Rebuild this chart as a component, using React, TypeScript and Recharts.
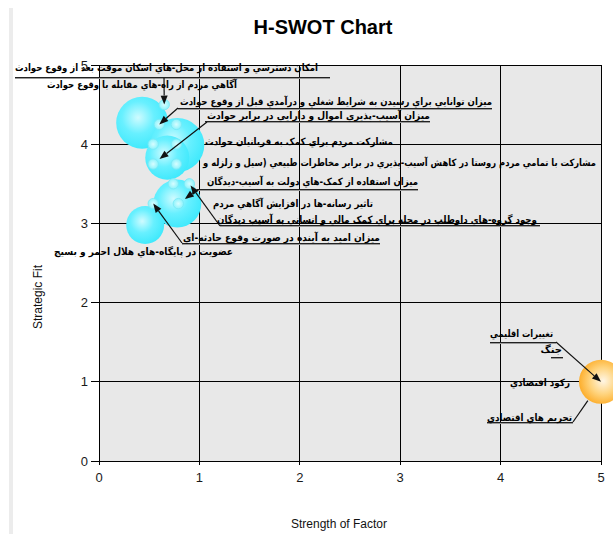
import React from 'react';
import { ScatterChart, Scatter, XAxis, YAxis, ZAxis, CartesianGrid } from 'recharts';

// factors near the top-left (strengths / opportunities)
const factorNames = [
  'امکان دسترسي و استفاده از محل-هاي اسکان موقت بعد از وقوع حوادث',
  'آگاهي مردم از راه-هاي مقابله با وقوع حوادث',
  'ميزان توانايي براي رسيدن به شرايط شغلي و درآمدي قبل از وقوع حوادث',
  'ميزان آسيب-پذيري اموال و دارايي در برابر حوادث',
  'مشارکت مردم براي کمک به قربانيان حوادث',
  'مشارکت با تمامي مردم روستا در کاهش آسيب-پذيري در برابر مخاطرات طبيعي (سيل و زلزله و',
  'ميزان استفاده از کمک-هاي دولت به آسيب-ديدگان',
  'تاثير رسانه-ها در افزايش آگاهي مردم',
  'وجود گروه-هاي داوطلب در محله براي کمک مالي و انساني به آسيب ديدگان',
  'ميزان اميد به آينده در صورت وقوع حادثه-اي',
  'عضويت در پايگاه-هاي هلال احمر و بسيج',
];
const factorX = [0.65, 0.77, 0.6, 0.54, 0.77, 0.54, 0.79, 0.74, 0.9, 0.54, 0.77];
const factorY = [4.5, 4.25, 4.25, 3.75, 4.0, 4.0, 3.25, 3.5, 3.5, 3.25, 3.75];
const factorSize = [0.3, 0.3, 0.3, 0.3, 0.3, 0.3, 0.3, 0.3, 0.3, 0.3, 0.3];

// the big cyan bubbles of the cluster
const clusterX = [0.43, 0.78, 0.68, 0.78, 0.46];
const clusterY = [4.27, 3.99, 3.83, 3.25, 2.98];
const clusterSize = [7.5, 8.1, 5.4, 6.4, 4.0];

// threats, all sharing one orange bubble
const threatNames = ['تغييرات اقليمي', 'جنگ', 'رکود اقتصادي', 'تحريم هاي اقتصادي'];
const threatX = [5];
const threatY = [1];
const threatSize = [5.4];

const axisTicks = [0, 1, 2, 3, 4, 5];

const factorData = factorNames.map((name, i) => ({ id: i, name, x: factorX[i], y: factorY[i], z: factorSize[i] }));
const clusterData = clusterX.map((x, i) => ({ id: i, x, y: clusterY[i], z: clusterSize[i] }));
const threatData = threatX.map((x, i) => ({ id: i, x, y: threatY[i], z: threatSize[i] }));

// smart-label placement (pixels), same order as the names
type Box = { left: number; right: number; mid: number; under?: [number, number, number]; from?: [number, number]; gap?: number; arrow?: boolean };

const factorBoxes: Box[] = [
  { left: 15, right: 318, mid: 67, under: [77, 15, 330], from: [164, 78], gap: 0, arrow: true },
  { left: 47, right: 237, mid: 84 },
  { left: 180, right: 492, mid: 101, under: [108, 178, 492], from: [178, 108], gap: 0, arrow: true },
  { left: 207, right: 430, mid: 115, under: [121, 205, 430], from: [207, 122], gap: 8, arrow: true },
  { left: 205, right: 393, mid: 141 },
  { left: 203, right: 596, mid: 162 },
  { left: 207, right: 418, mid: 181, under: [189, 197, 418], from: [197, 190], gap: 8, arrow: true },
  { left: 213, right: 373, mid: 203 },
  { left: 217, right: 537, mid: 219, under: [225, 220, 540], from: [220, 226], gap: 2, arrow: true },
  { left: 183, right: 380, mid: 237, under: [243, 182, 380], from: [182, 243], gap: 0, arrow: true },
  { left: 54, right: 233, mid: 251 },
];

const threatBoxes: Box[] = [
  { left: 490, right: 553, mid: 333, under: [342, 490, 556], from: [556, 342], gap: 0, arrow: true },
  { left: 550, right: 562, mid: 349, under: [357, 551, 563] },
  { left: 510, right: 570, mid: 382 },
  { left: 487, right: 572, mid: 417, under: [422, 487, 573], from: [573, 422], gap: 23, arrow: false },
];

const labelFont = '"DejaVu Sans", sans-serif';
const axisFont = '"Liberation Sans", Arial, sans-serif';

function Connector({ from, to, gap = 0, arrow }: { from: [number, number]; to: [number, number]; gap?: number; arrow?: boolean }) {
  const dx = to[0] - from[0];
  const dy = to[1] - from[1];
  const len = Math.hypot(dx, dy) || 1;
  const ux = dx / len;
  const uy = dy / len;
  const tx = to[0] - ux * gap;
  const ty = to[1] - uy * gap;
  if (!arrow) {
    return <line x1={from[0]} y1={from[1]} x2={tx} y2={ty} stroke="#111" strokeWidth={1.2} />;
  }
  const bx = tx - ux * 9;
  const by = ty - uy * 9;
  const px = -uy * 3.5;
  const py = ux * 3.5;
  return (
    <g>
      <line x1={from[0]} y1={from[1]} x2={bx} y2={by} stroke="#111" strokeWidth={1.2} />
      <polygon points={`${tx},${ty} ${bx + px},${by + py} ${bx - px},${by - py}`} fill="#111" />
    </g>
  );
}

function LabelBox({ box, text, cx, cy }: { box: Box; text: string; cx: number; cy: number }) {
  const w = box.right - box.left;
  return (
    <g>
      {box.under && (
        <g>
          <line x1={box.under[1]} x2={box.under[2]} y1={box.under[0] + 1.5} y2={box.under[0] + 1.5} stroke="#9a9a9a" />
          <line x1={box.under[1]} x2={box.under[2]} y1={box.under[0] + 0.5} y2={box.under[0] + 0.5} stroke="#222" />
        </g>
      )}
      {box.from && <Connector from={box.from} to={[cx, cy]} gap={box.gap} arrow={box.arrow} />}
      <text
        x={box.right}
        y={box.mid}
        textAnchor="end"
        dominantBaseline="central"
        fontFamily={labelFont}
        fontSize={10}
        fontWeight="bold"
        fill="#000"
        {...(w > 30 ? { textLength: w, lengthAdjust: 'spacingAndGlyphs' } : {})}
      >
        {text}
      </text>
    </g>
  );
}

const CyanBubble = (props: any) => {
  const { cx, cy, width, payload } = props;
  const id = `cyan-${payload.id}`;
  return (
    <g>
      <defs>
        <radialGradient id={id} cx="42%" cy="40%" r="62%">
          <stop offset="0%" stopColor="#cffbff" />
          <stop offset="50%" stopColor="#68f0ff" />
          <stop offset="100%" stopColor="#3fe9fc" />
        </radialGradient>
      </defs>
      <circle cx={cx} cy={cy} r={width / 2} fill={`url(#${id})`} />
    </g>
  );
};

const FactorDot = (props: any) => {
  const { cx, cy, width, payload } = props;
  const id = `dot-${payload.id}`;
  return (
    <g>
      <defs>
        <radialGradient id={id} cx="50%" cy="50%" r="50%">
          <stop offset="0%" stopColor="#d8fdff" />
          <stop offset="100%" stopColor="#8cf3fc" />
        </radialGradient>
      </defs>
      <circle cx={cx} cy={cy} r={width / 2} fill={`url(#${id})`} stroke="#78e9f5" strokeWidth={0.8} />
    </g>
  );
};

const OrangeBubble = (props: any) => {
  const { cx, cy, width, payload } = props;
  const id = `orange-${payload.id}`;
  return (
    <g>
      <defs>
        <radialGradient id={id} cx="55%" cy="48%" r="55%">
          <stop offset="0%" stopColor="#fff6e6" />
          <stop offset="55%" stopColor="#ffd47e" />
          <stop offset="100%" stopColor="#fdae2c" />
        </radialGradient>
      </defs>
      <circle cx={cx} cy={cy} r={width / 2} fill={`url(#${id})`} />
    </g>
  );
};

const FactorCallout = (props: any) => {
  const { cx, cy, payload } = props;
  return <LabelBox box={factorBoxes[payload.id]} text={payload.name} cx={cx} cy={cy} />;
};

const ThreatCallouts = (props: any) => {
  const { cx, cy } = props;
  return (
    <g>
      {threatNames.map((t, i) => (
        <LabelBox key={t} box={threatBoxes[i]} text={t} cx={cx} cy={cy} />
      ))}
    </g>
  );
};

export default function App() {
  return (
    <div style={{ position: 'absolute', left: 0, top: 0, width: 613, height: 534, background: '#fff' }}>
      <style>{`.recharts-cartesian-grid line, .recharts-cartesian-axis-line, .recharts-cartesian-axis-tick-line { shape-rendering: crispEdges; }`}</style>
      <svg width={613} height={534} style={{ position: 'absolute', left: 0, top: 0 }}>
        <rect x={9} y={8} width={4} height={526} fill="#ececec" />
        <text x={323} y={27} textAnchor="middle" dominantBaseline="central" fontFamily={axisFont} fontWeight="bold" fontSize={20} fill="#000">
          H-SWOT Chart
        </text>
        <text x={38} y={297} transform="rotate(-90 38 297)" textAnchor="middle" dominantBaseline="central" fontFamily={axisFont} fontSize={12} fill="#111">
          Strategic Fit
        </text>
        <text x={339} y={524} textAnchor="middle" dominantBaseline="central" fontFamily={axisFont} fontSize={12} fill="#111">
          Strength of Factor
        </text>
      </svg>
      <div style={{ position: 'absolute', left: 0, top: 0 }}>
        <ScatterChart width={613} height={534} margin={{ top: 65, right: 12, bottom: 43, left: 0 }}>
          <CartesianGrid stroke="#000" fill="#e8e8e8" fillOpacity={1} />
          <XAxis
            type="number"
            dataKey="x"
            domain={[0, 5]}
            ticks={axisTicks}
            interval={0}
            height={30}
            tickSize={4}
            tickMargin={8}
            axisLine={{ stroke: '#000' }}
            tickLine={{ stroke: '#000' }}
            tick={{ fill: '#1a1a1a', fontSize: 13, fontFamily: axisFont }}
          />
          <YAxis
            type="number"
            dataKey="y"
            domain={[0, 5]}
            ticks={axisTicks}
            interval={0}
            width={99}
            tickSize={8}
            tickMargin={3}
            axisLine={{ stroke: '#000' }}
            tickLine={{ stroke: '#000' }}
            tick={{ fill: '#1a1a1a', fontSize: 13, fontFamily: axisFont }}
          />
          <ZAxis type="number" dataKey="z" domain={[0, 10]} range={[0, 2827]} />
          <Scatter data={clusterData} shape={CyanBubble} isAnimationActive={false} />
          <Scatter data={factorData} shape={FactorDot} isAnimationActive={false} />
          <Scatter data={threatData} shape={OrangeBubble} isAnimationActive={false} />
          <Scatter data={factorData} shape={FactorCallout} isAnimationActive={false} />
          <Scatter data={threatData} shape={ThreatCallouts} isAnimationActive={false} />
        </ScatterChart>
      </div>
    </div>
  );
}
